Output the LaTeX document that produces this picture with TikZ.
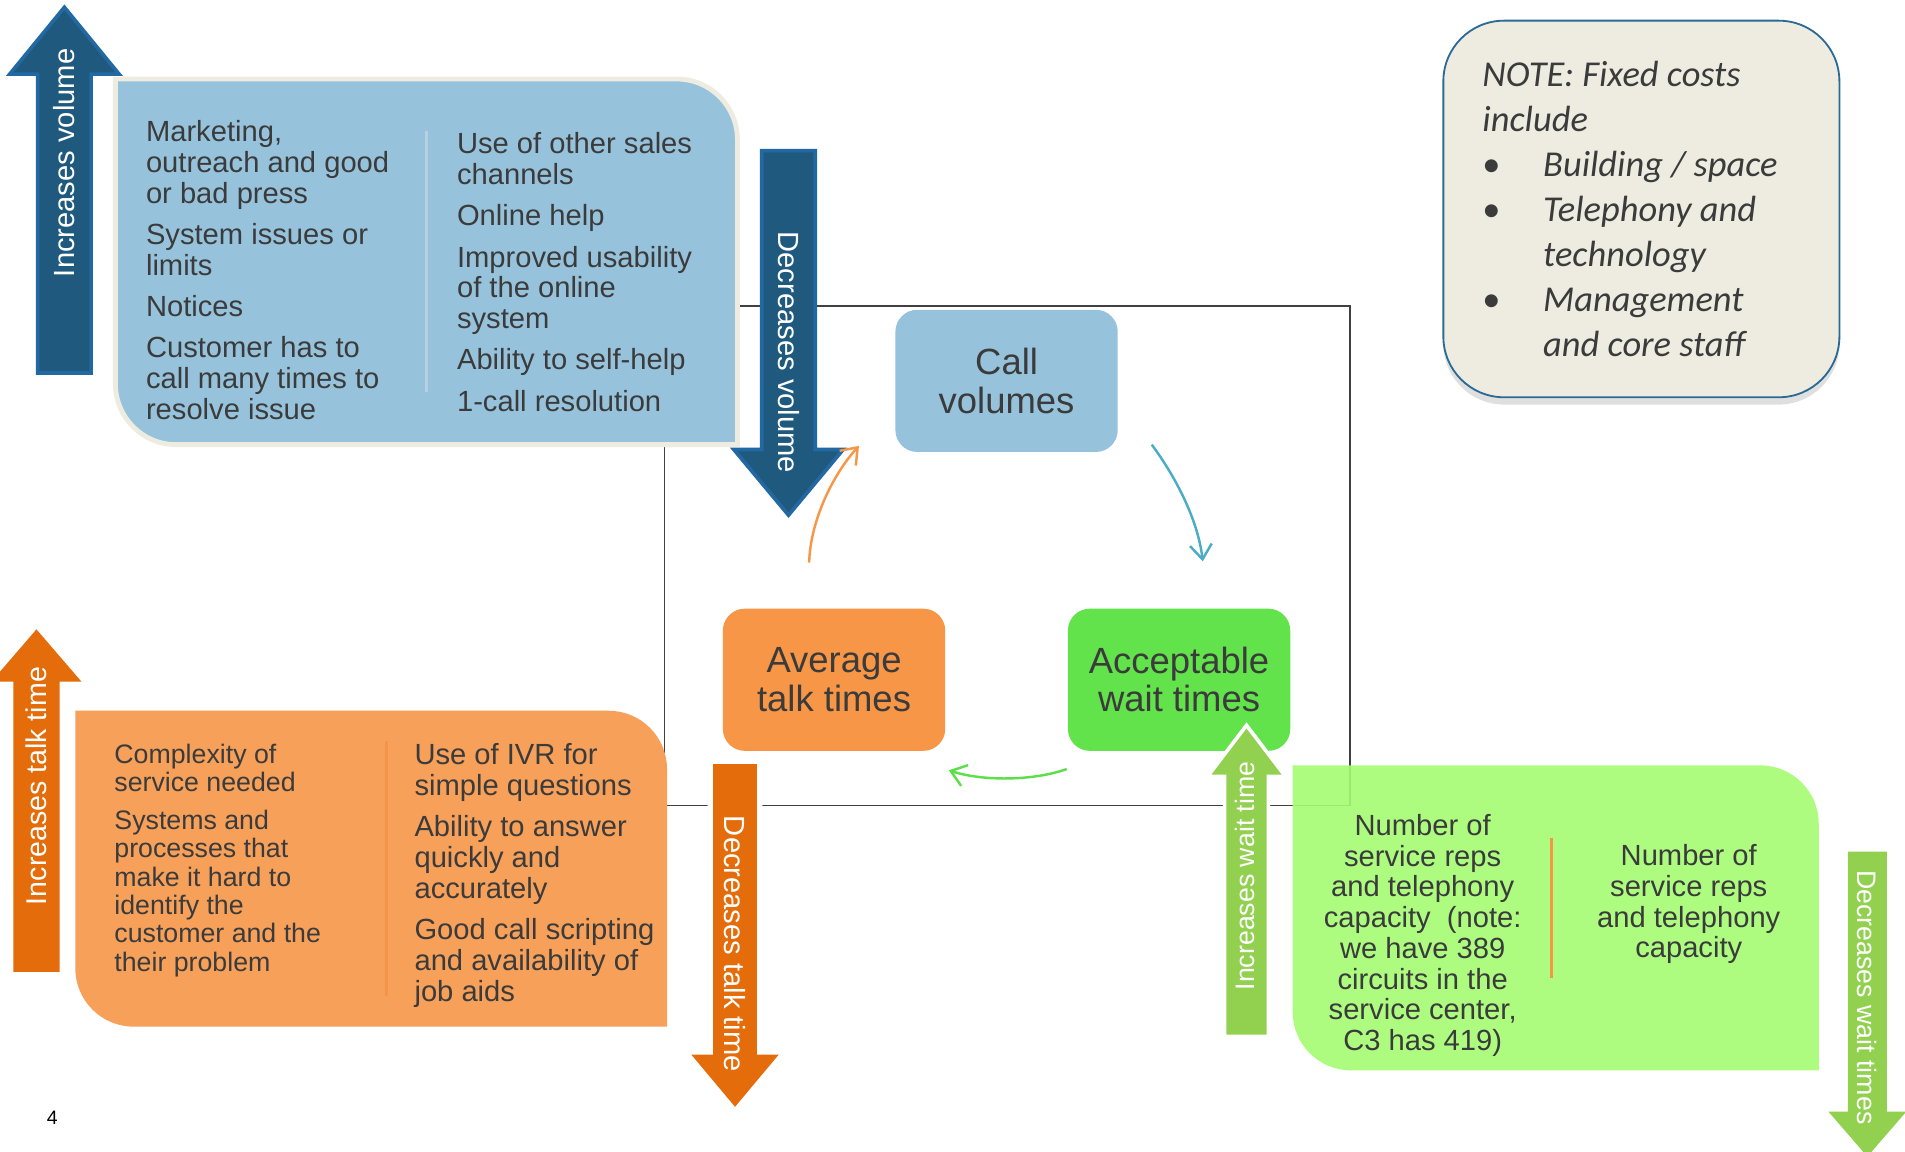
\documentclass[tikz,border=0pt]{standalone}
\usepackage{fontspec}
\setmainfont{Liberation Sans}
\newfontfamily\notefont{Carlito}
\usetikzlibrary{arrows.meta,shadows}
\definecolor{dbfill}{HTML}{1F5A7E}
\definecolor{dbedge}{HTML}{2268A3}
\definecolor{boxblue}{HTML}{96C3DB}
\definecolor{cream}{HTML}{EEECE1}
\definecolor{oarrow}{HTML}{E46C0A}
\definecolor{obox}{HTML}{F6A05A}
\definecolor{ocenter}{HTML}{F79646}
\definecolor{gcenter}{HTML}{62E24B}
\definecolor{garrow}{HTML}{92D050}
\definecolor{gbox}{HTML}{A5FC73}
\definecolor{cblue}{HTML}{4BACC6}
\definecolor{cgreen}{HTML}{5CE04A}
\definecolor{txt}{HTML}{3B3B3B}
\definecolor{noteedge}{HTML}{2A6A94}
\definecolor{frameline}{HTML}{404040}
\definecolor{bdiv}{HTML}{B9D0E3}
\definecolor{odiv}{HTML}{F39548}
\newcommand\rdbox[6]{\path[#1] (#2,#3) -- ({#4-#6},#3) .. controls ({#4-0.448*#6},#3) and (#4,{#3+0.448*#6}) .. (#4,{#3+#6}) -- (#4,#5) -- ({#2+#6},#5) .. controls ({#2+0.448*#6},#5) and (#2,{#5-0.448*#6}) .. (#2,{#5-#6}) -- cycle;}
\newcommand\blockarrow[7]{\path[#1] (#2,#3) -- ({#2+#5},#4) -- ({#2+#6},#4) -- ({#2+#6},#7) -- ({#2-#6},#7) -- ({#2-#6},#4) -- ({#2-#5},#4) -- cycle;}
\tikzset{
  bodytext/.style={inner sep=0pt, text=txt, align=left, font=\fontsize{24}{25.3}\selectfont},
  smalltext/.style={inner sep=0pt, text=txt, align=left, font=\fontsize{22}{23.3}\selectfont},
  arrtext/.style={inner sep=0pt, text=white, font=\fontsize{24}{26}\selectfont},
  centerbox/.style={rounded corners=18pt, minimum width=183pt, minimum height=117pt, inner sep=0pt,
     text=txt, align=center, font=\fontsize{30}{31.5}\selectfont},
  curve/.style={line width=2pt, -{Straight Barb[length=12pt,width=18pt,line width=2pt]}},
}
\begin{document}
\begin{tikzpicture}[x=1pt,y=-1pt,line join=miter]
\useasboundingbox[fill=white] (0,0) rectangle (1568,948);
% frame
\draw[frameline, line width=1.3pt] (547,252) rectangle (1111,663);
% big boxes
\rdbox{fill=boxblue, draw=cream, line width=4pt}{95}{65}{607}{366}{50}
\rdbox{fill=obox}{62}{585}{549}{845}{48}
\rdbox{fill=gbox, fill opacity=0.9}{1064}{630}{1497}{881}{48}
% dividers
\draw[bdiv, line width=3pt] (351,108) -- (351,323);
\draw[odiv, line width=3pt] (318,610) -- (318,820);
\draw[ocenter, line width=3pt] (1277,690) -- (1277,805);
% center nodes
\node[centerbox, fill=boxblue] (call) at (828.5,313.5) {Call\\volumes};
\node[centerbox, fill=ocenter] (avg) at (686.5,559.5) {Average\\talk times};
\node[centerbox, fill=gcenter] (wait) at (970.5,559.5) {Acceptable\\wait times};
% block arrows
\blockarrow{fill=dbfill, draw=dbedge, line width=3pt}{53}{6}{61}{45}{22}{307}
\blockarrow{fill=dbfill, draw=dbedge, line width=3pt}{649}{424}{370}{45}{22}{124}
\blockarrow{fill=oarrow}{30}{518}{561}{37}{19}{800}
\blockarrow{fill=oarrow, draw=white, line width=5pt}{605}{913}{868}{38}{20}{627}
\blockarrow{fill=oarrow}{605}{911}{868}{36}{18}{629}
\blockarrow{fill=garrow, draw=white, line width=3pt}{1026}{597}{639}{32}{18}{853}
\blockarrow{fill=garrow}{1537}{952}{915}{32}{16}{701}
% arrow labels
\node[arrtext, rotate=90] (incvol) at (53,134) {Increases volume};
\node[arrtext, rotate=-90] (decvol) at (649,290) {Decreases volume};
\node[arrtext, rotate=90, font=\fontsize{23.5}{25}\selectfont] (inctalk) at (30,647) {Increases talk time};
\node[arrtext, rotate=-90] (dectalk) at (605,777) {Decreases talk time};
\node[arrtext, rotate=90, font=\fontsize{22}{24}\selectfont] (incwait) at (1025,721) {Increases wait time};
\node[arrtext, rotate=-90, font=\fontsize{22}{24}\selectfont] (decwait) at (1537,821) {Decreases wait times};
% blue box text
\node[bodytext, anchor=north west] (bleft) at (120,99) {Marketing,\\outreach and good\\or bad press\\[8.7pt]System issues or\\limits\\[8.7pt]Notices\\[8.7pt]Customer has to\\call many times to\\resolve issue};
\node[bodytext, anchor=north west] (bright) at (376,109) {Use of other sales\\channels\\[8.7pt]Online help\\[8.7pt]Improved usability\\of the online\\system\\[8.7pt]Ability to self-help\\[8.7pt]1-call resolution};
% orange box text
\node[smalltext, anchor=north west] (oleft) at (94,612) {Complexity of\\service needed\\[8pt]Systems and\\processes that\\make it hard to\\identify the\\customer and the\\their problem};
\node[bodytext, anchor=north west] (oright) at (341,612) {Use of IVR for\\simple questions\\[8.7pt]Ability to answer\\quickly and\\accurately\\[8.7pt]Good call scripting\\and availability of\\job aids};
% green box text
\node[bodytext, align=center, anchor=north] (gleft) at (1171,670) {Number of\\service reps\\and telephony\\capacity~ (note:\\we have 389\\circuits in the\\service center,\\C3 has 419)};
\node[bodytext, align=center, anchor=north] (gright) at (1390,695) {Number of\\service reps\\and telephony\\capacity};
% curved connectors
\coordinate (o1) at (666,463);
\coordinate (o2) at (707,367);
\coordinate (b1) at (948,366);
\coordinate (b2) at (990,462);
\coordinate (g1) at (878,633);
\coordinate (g2) at (781,634);
\draw[curve, ocenter] (o1) .. controls (667,428) and (686,390) .. (o2);
\draw[curve, cblue] (b1) .. controls (968,393) and (986,428) .. (b2);
\draw[curve, cgreen] (g1) .. controls (850,643) and (808,643) .. (g2);
% note box
\node[draw=noteedge, line width=1.5pt, fill=cream, rounded corners=50pt, minimum width=326pt, minimum height=310pt,
  drop shadow={shadow xshift=0pt, shadow yshift=-6pt, opacity=0.25}] (note) at (1351,172) {};
\node[inner sep=0pt, anchor=north west, align=left, text=txt, font=\notefont\itshape\fontsize{30}{37}\selectfont] (notetxt) at (1220,50)
 {NOTE: Fixed costs\\include\\\makebox[50pt][l]{\upshape •}Building / space\\\makebox[50pt][l]{\upshape •}Telephony and\\\hspace*{50pt}technology\\\makebox[50pt][l]{\upshape •}Management\\\hspace*{50pt}and core staff};
% page number
\node[inner sep=0pt, font=\fontsize{16}{18}\selectfont] (pnum) at (43,920) {4};
\end{tikzpicture}
\end{document}
